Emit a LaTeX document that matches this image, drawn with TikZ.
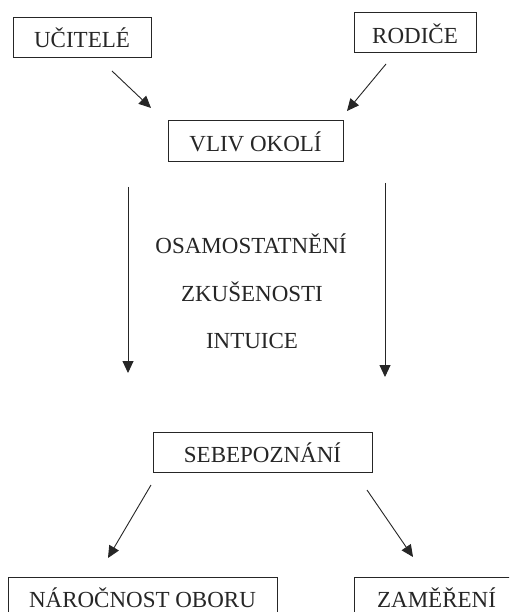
\documentclass[tikz,border=0pt]{standalone}
\usepackage{fontspec}
\setmainfont{Liberation Serif}
\usetikzlibrary{arrows.meta}
\begin{document}
\begin{tikzpicture}[x=1pt,y=-1pt,
  box/.style={draw=black!85,line width=1pt,inner sep=0pt,text height=21pt,text depth=0pt,
    minimum height=40pt,font=\fontsize{23}{27}\selectfont,text=black!85},
  lbl/.style={inner sep=0pt,anchor=base,font=\fontsize{23}{27}\selectfont,text=black!85},
  arr/.style={draw=black!85,line width=0.9pt,-{Triangle[length=12pt,width=11pt]}}]
\useasboundingbox (0,0) rectangle (509,612);
\clip (0,0) rectangle (509,612);
\fill[white] (0,0) rectangle (509,612);
\node[box,minimum width=138pt] (ucitele) at (82,37.5) {UČITELÉ};
\node[box,minimum width=122pt] (rodice) at (415,33) {RODIČE};
\node[box,minimum width=175pt,minimum height=41pt] (vliv) at (255.5,141.5) {VLIV OKOLÍ};
\node[lbl] (osam) at (251,253) {OSAMOSTATNĚNÍ};
\node[lbl] (zkus) at (252,301.5) {ZKUŠENOSTI};
\node[lbl] (intu) at (252,348.5) {INTUICE};
\node[box,minimum width=219pt] (sebe) at (262.5,452) {SEBEPOZNÁNÍ};
\node[box,minimum width=269pt] (narocnost) at (142.5,597) {NÁROČNOST OBORU};
\node[box,minimum width=200pt,anchor=west] (zamereni) at (354,597) {\hspace*{13pt}ZAMĚŘENÍ\hspace*{49pt}};
\coordinate (a1s) at (112,71);  \coordinate (a1e) at (151,108);
\coordinate (a2s) at (386,64);  \coordinate (a2e) at (347,111);
\coordinate (a3s) at (128,187); \coordinate (a3e) at (128,373);
\coordinate (a4s) at (385,183); \coordinate (a4e) at (385,377);
\coordinate (a5s) at (151,485); \coordinate (a5e) at (108,558);
\coordinate (a6s) at (367,490); \coordinate (a6e) at (413,557);
\draw[arr] (a1s) -- (a1e);
\draw[arr] (a2s) -- (a2e);
\draw[arr] (a3s) -- (a3e);
\draw[arr] (a4s) -- (a4e);
\draw[arr] (a5s) -- (a5e);
\draw[arr] (a6s) -- (a6e);
\end{tikzpicture}
\end{document}
